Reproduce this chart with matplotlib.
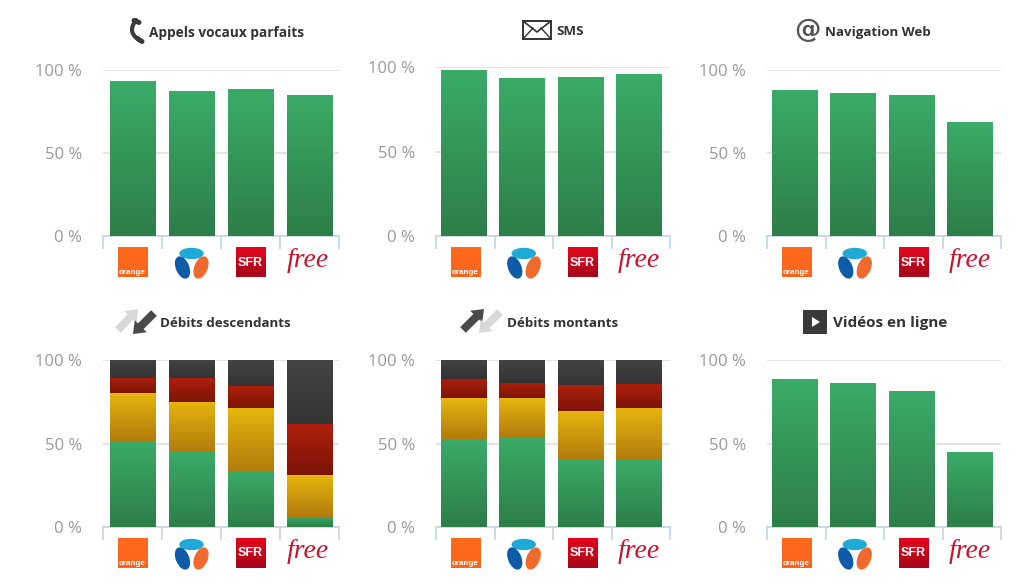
import numpy as np
import matplotlib
matplotlib.use('Agg')
import matplotlib.pyplot as plt
from matplotlib.colors import LinearSegmentedColormap
from matplotlib.patches import Rectangle, Ellipse, Polygon, PathPatch, FancyArrow
from matplotlib.path import Path

W, H = 1024, 588

operators = ['orange', 'bouygues', 'SFR', 'free']
y_ticks = [0, 50, 100]
y_labels = ['0 %', '50 %', '100 %']

# single series panels
appels = [93.5, 87.5, 88.5, 85]
sms = [98, 93.5, 94, 96]
navigation = [88, 86, 85, 68.5]
videos = [88.5, 86.5, 81.5, 45]

# stacked panels, bottom to top
desc_green = [51.5, 45, 33, 6]
desc_yellow = [28.5, 30, 38, 25]
desc_red = [9.5, 14.5, 13.5, 30.5]
desc_dark = [10.5, 10.5, 15.5, 38.5]

mont_green = [52.5, 54, 41, 40]
mont_yellow = [24.5, 23, 28.5, 31]
mont_red = [11.5, 9.5, 15.5, 14.5]
mont_dark = [11.5, 13.5, 15, 14.5]

GREEN = ('#3bab68', '#2d7e49')
YELLOW = ('#e6b50f', '#b37b0c')
RED = ('#ae1f0c', '#7c1407')
DARK = ('#444444', '#333333')


def gradient_bar(ax, x, bottom, height, colors):
    bar = ax.bar(x, height, 0.775, bottom=bottom, color=colors[0], linewidth=0, zorder=3)[0]
    cmap = LinearSegmentedColormap.from_list('g', colors)
    im = ax.imshow(np.linspace(0, 1, 64).reshape(-1, 1), cmap=cmap, aspect='auto', zorder=3.5,
                   extent=(x - 0.3875, x + 0.3875, bottom, bottom + height), origin='upper')
    im.set_clip_path(bar)


def make_panel(left, right, top, bottom, stacks, shift):
    ax = fig.add_axes([left / W, 1 - bottom / H, (right - left) / W, (bottom - top) / H])
    xs = np.arange(len(operators))
    for x in xs:
        base = 0
        for values, colors in stacks:
            gradient_bar(ax, x, base, values[x], colors)
            base += values[x]
    # bars sit slightly left of the middle of their slot
    ax.set_xlim(-0.5 + shift, 3.5 + shift)
    ax.set_ylim(0, 100)
    ax.set_yticks(y_ticks)
    ax.set_yticklabels(y_labels, family='Open Sans', fontsize=12, color='#999999')
    ax.tick_params(axis='y', length=0, pad=15)
    ax.set_xticks(np.arange(-0.5, 4, 1) + shift)
    ax.set_xticklabels([])
    ax.tick_params(axis='x', length=9.4, width=1.2, color='#c6d4e3')
    ax.grid(axis='y', color='#dddddd', linewidth=1.1, zorder=1)
    ax.set_axisbelow(True)
    for s in ['top', 'left', 'right']:
        ax.spines[s].set_visible(False)
    ax.spines['bottom'].set_color('#c6d4e3')
    ax.spines['bottom'].set_linewidth(1.2)
    ax.patch.set_alpha(0)
    return ax


def gradient_square(x0, y0, size, c_top, c_bot):
    cmap = LinearSegmentedColormap.from_list('l', [c_top, c_bot])
    over.imshow(np.linspace(0, 1, 32).reshape(-1, 1), cmap=cmap, aspect='auto',
                extent=(x0, x0 + size, y0 + size, y0), origin='upper', zorder=2)


def draw_logos(left, right, bottom):
    step = (right - left) / 4
    cx = [left + step * (i + 0.5) for i in range(4)]
    y0 = bottom + 11.5
    # orange
    gradient_square(cx[0] - 14.5, y0, 29.5, '#ff6a1c', '#f9651b')
    over.text(cx[0], y0 + 25, 'orange', color='white', fontsize=5.8, ha='center', va='center',
              family='Liberation Sans', fontweight='bold', zorder=3)
    # bouygues
    over.add_patch(Ellipse((cx[1], y0 + 6), 23, 10, color='#1fa9d6', zorder=3))
    over.add_patch(Ellipse((cx[1] - 9, y0 + 20), 12, 22, angle=-22, color='#0e5ba8', zorder=3))
    over.add_patch(Ellipse((cx[1] + 9.5, y0 + 20), 12, 22, angle=22, color='#ef6a2c', zorder=3))
    # sfr
    gradient_square(cx[2] - 14.5, y0, 29.5, '#e4051c', '#a5061a')
    over.text(cx[2], y0 + 15, 'SFR', color='white', fontsize=9, ha='center', va='center',
              family='Liberation Sans', fontweight='bold', zorder=3)
    # free
    over.text(cx[3] - 1.5, y0 + 13, 'free', color='#c4152f', fontsize=20, ha='center', va='center',
              family='Liberation Serif', style='italic', zorder=3)


def arrow(x0, y0, x1, y1, color):
    over.add_patch(FancyArrow(x0, y0, x1 - x0, y1 - y0, width=8, head_width=17, head_length=11,
                              length_includes_head=True, color=color, linewidth=0, zorder=3))


fig = plt.figure(figsize=(W / 100, H / 100), dpi=100, facecolor='white')

make_panel(103, 339, 70, 236, [(appels, GREEN)], 0.0)
make_panel(436, 670, 67, 236, [(sms, GREEN)], 0.03)
make_panel(767, 1001, 70, 236, [(navigation, GREEN)], 0.03)
make_panel(103, 339, 360, 527, [(desc_green, GREEN), (desc_yellow, YELLOW), (desc_red, RED), (desc_dark, DARK)], 0.0)
make_panel(436, 670, 360, 527, [(mont_green, GREEN), (mont_yellow, YELLOW), (mont_red, RED), (mont_dark, DARK)], 0.03)
make_panel(767, 1001, 360, 527, [(videos, GREEN)], 0.03)

# overlay in pixel units for titles, icons and logos
over = fig.add_axes([0, 0, 1, 1], zorder=10)
over.patch.set_alpha(0)
over.axis('off')

for left, right, bottom in [(103, 339, 236), (436, 670, 236), (767, 1001, 236),
                            (103, 339, 527), (436, 670, 527), (767, 1001, 527)]:
    draw_logos(left, right, bottom)

titles = [('Appels vocaux parfaits', 149, 32.5, 9.8), ('SMS', 556, 31.5, 9.6),
          ('Navigation Web', 825, 32.5, 9.6), ('Débits descendants', 160, 323.5, 9.6),
          ('Débits montants', 507, 323.5, 9.6), ('Vidéos en ligne', 833, 323.5, 11)]
for label, x, y, size in titles:
    over.text(x, y, label, ha='left', va='center', fontsize=size, fontweight='bold',
              family='Open Sans', color='#333333')

# phone
phone = Path([(136, 20), (126, 33), (141, 41)], [Path.MOVETO, Path.CURVE3, Path.CURVE3])
over.add_patch(PathPatch(phone, fill=False, edgecolor='#3a3a3a', linewidth=3, capstyle='round'))
over.plot([134, 139], [20.5, 22.5], color='#3a3a3a', linewidth=3.6, solid_capstyle='round')
over.plot([137.5, 142], [38.5, 41.5], color='#3a3a3a', linewidth=3.6, solid_capstyle='round')

# envelope
over.add_patch(Rectangle((523, 21), 28, 18, facecolor='white', edgecolor='#333333', linewidth=1.4))
over.plot([523, 537, 551], [21, 32, 21], color='#333333', linewidth=1.2)
over.plot([523, 533], [39, 28], color='#333333', linewidth=1)
over.plot([551, 541], [39, 28], color='#333333', linewidth=1)

# at sign
over.text(807, 30, '@', fontsize=19, fontweight='bold', family='DejaVu Sans', color='#555555',
          ha='center', va='center')

# arrows
arrow(118, 330, 138, 309, '#d8d8d8')
arrow(154, 313, 133, 334, '#4a4a4a')
arrow(463, 330, 484, 309, '#4a4a4a')
arrow(500, 312, 479, 333, '#d8d8d8')

# video
over.add_patch(Rectangle((803, 310), 24, 24, color='#3a3a3a', linewidth=0))
over.add_patch(Polygon([(812, 317), (812, 327), (820, 322)], color='white', linewidth=0))

over.set_xlim(0, W)
over.set_ylim(H, 0)

fig.savefig('out.png', dpi=100)
